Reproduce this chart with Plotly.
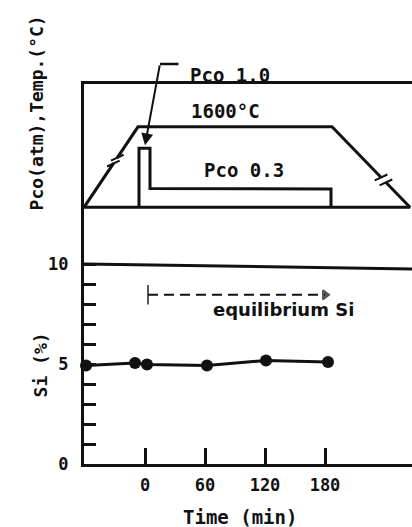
import math
import plotly.graph_objects as go

# ---------------- data ----------------
time_min = [-59, -10, 2, 62, 121, 183]
si_pct = [4.93, 5.05, 4.97, 4.92, 5.18, 5.10]

x_ticks = [0, 60, 120, 180]
y_tickvals = list(range(0, 11))
y_ticktext = ["0", "", "", "", "", "5", "", "", "", "", "10"]

# schematic upper panel (x in minutes, y in Pco atm; temperature plateau drawn schematically)
temp_x = [-61, -7, 187, 265, -61]
temp_y = [0, 1.364, 1.364, 0, 0]
pco_x = [-6, -6, 5, 5, 186, 186]
pco_y = [0, 1.0, 1.0, 0.32, 0.31, 0]

si_frame_x = [-61, 267]
si_frame_y = [10, 9.75]

eq_x = [3, 180]
eq_y = [8.46, 8.46]

X_RANGE = [-61, 267]
Y_RANGE = [0, 19.0]
Y2_RANGE = [-4.351, 2.090]

MONO = "DejaVu Sans Mono"
BLACK = "#111111"


def mfont(size):
    return dict(family=MONO, size=size, color=BLACK, weight="bold")


fig = go.Figure()

# temperature trapezoid
fig.add_trace(go.Scatter(x=temp_x, y=temp_y, yaxis="y2", mode="lines",
                         line=dict(color=BLACK, width=3), hoverinfo="skip"))
# Pco profile
fig.add_trace(go.Scatter(x=pco_x, y=pco_y, yaxis="y2", mode="lines",
                         line=dict(color=BLACK, width=3), hoverinfo="skip"))

# break marks on the ramps (computed from trapezoid segments in pixel units)
PX_X = 1.0    # px per minute
PX_Y2 = 59.0  # px per atm


def break_mark(i, frac):
    x0, y0 = temp_x[i], temp_y[i]
    x1, y1 = temp_x[i + 1], temp_y[i + 1]
    dx, dy = (x1 - x0) * PX_X, (y1 - y0) * PX_Y2
    L = (dx ** 2 + dy ** 2) ** 0.5
    ux, uy = dx / L, dy / L
    px = x0 + (x1 - x0) * frac
    py = y0 + (y1 - y0) * frac
    fig.add_trace(go.Scatter(x=[px - 3 * ux / PX_X, px + 3 * ux / PX_X],
                             y=[py - 3 * uy / PX_Y2, py + 3 * uy / PX_Y2],
                             yaxis="y2", mode="lines",
                             line=dict(color="white", width=5), hoverinfo="skip"))
    a = math.radians(25)
    sx, sy = math.cos(a), math.sin(a)
    for s in (-3.5, 3.5):
        cx = px + s * ux / PX_X
        cy = py + s * uy / PX_Y2
        fig.add_trace(go.Scatter(x=[cx - 7 * sx / PX_X, cx + 7 * sx / PX_X],
                                 y=[cy - 7 * sy / PX_Y2, cy + 7 * sy / PX_Y2],
                                 yaxis="y2", mode="lines",
                                 line=dict(color=BLACK, width=2), hoverinfo="skip"))


break_mark(0, 0.58)
break_mark(2, 0.66)

# Si panel frame line at 10
fig.add_trace(go.Scatter(x=si_frame_x, y=si_frame_y, mode="lines",
                         line=dict(color=BLACK, width=3), hoverinfo="skip"))

# equilibrium Si dashed arrow
fig.add_trace(go.Scatter(x=eq_x, y=eq_y, mode="lines+markers",
                         line=dict(color=BLACK, width=2, dash="10px,6px"),
                         marker=dict(symbol=["line-ns", "triangle-right"], size=[14, 8],
                                     color=BLACK, line=dict(color=BLACK, width=2)),
                         hoverinfo="skip"))

# Si data
fig.add_trace(go.Scatter(x=time_min, y=si_pct, mode="lines+markers",
                         line=dict(color=BLACK, width=3),
                         marker=dict(size=12, color=BLACK), cliponaxis=False))

annotations = [
    dict(x=0, y=1.05, xref="x", yref="y2", ax=15, ay=2.43, axref="x", ayref="y2",
         text="", showarrow=True, arrowhead=2, arrowsize=1.2, arrowwidth=2, arrowcolor=BLACK),
    dict(x=0.2317, y=1.0526, xref="paper", yref="paper", ax=20, ay=0,
         text="", showarrow=True, arrowhead=0, arrowwidth=2.5, arrowcolor=BLACK),
    dict(x=85, y=1.058, xref="x", yref="paper", text="Pco 1.0", showarrow=False, font=mfont(19)),
    dict(x=80, y=1.64, xref="x", yref="y2", text="1600°C", showarrow=False, font=mfont(19)),
    dict(x=99, y=0.63, xref="x", yref="y2", text="Pco 0.3", showarrow=False, font=mfont(19)),
    dict(x=138, y=7.75, xref="x", yref="y", text="equilibrium Si", showarrow=False,
         font=dict(family="DejaVu Sans", size=18, color=BLACK, weight=800)),
    dict(x=95, y=-0.139, xref="x", yref="paper", text="Time (min)", showarrow=False,
         font=mfont(19), yanchor="middle"),
    dict(x=-0.171, y=4.95, xref="paper", yref="y", text="Si (%)", showarrow=False,
         textangle=-90, font=mfont(18)),
    dict(x=-0.183, y=1.6, xref="paper", yref="y2", text="Pco(atm),Temp.(°C)", showarrow=False,
         textangle=-90, font=mfont(18)),
]

fig.update_layout(
    width=412, height=527,
    margin=dict(l=84, r=0, t=84, b=63),
    paper_bgcolor="white", plot_bgcolor="white",
    showlegend=False,
    xaxis=dict(range=X_RANGE, tickvals=x_ticks, ticks="inside", ticklen=16, tickwidth=2.5,
               tickcolor=BLACK, showline=True, linewidth=3, linecolor=BLACK, mirror=True,
               showgrid=False, zeroline=False, ticklabelstandoff=4, tickfont=mfont(17)),
    yaxis=dict(range=Y_RANGE, tickvals=y_tickvals, ticktext=y_ticktext, ticks="inside",
               ticklen=12, tickwidth=2.5, tickcolor=BLACK, showline=True, linewidth=3,
               linecolor=BLACK, showgrid=False, zeroline=False, ticklabelstandoff=9,
               tickfont=mfont(17)),
    yaxis2=dict(range=Y2_RANGE, overlaying="y", visible=False, showgrid=False, zeroline=False),
    annotations=annotations,
)

fig.write_html("out.html", config={"displayModeBar": False},
               post_script="document.body.style.margin='0px';")
